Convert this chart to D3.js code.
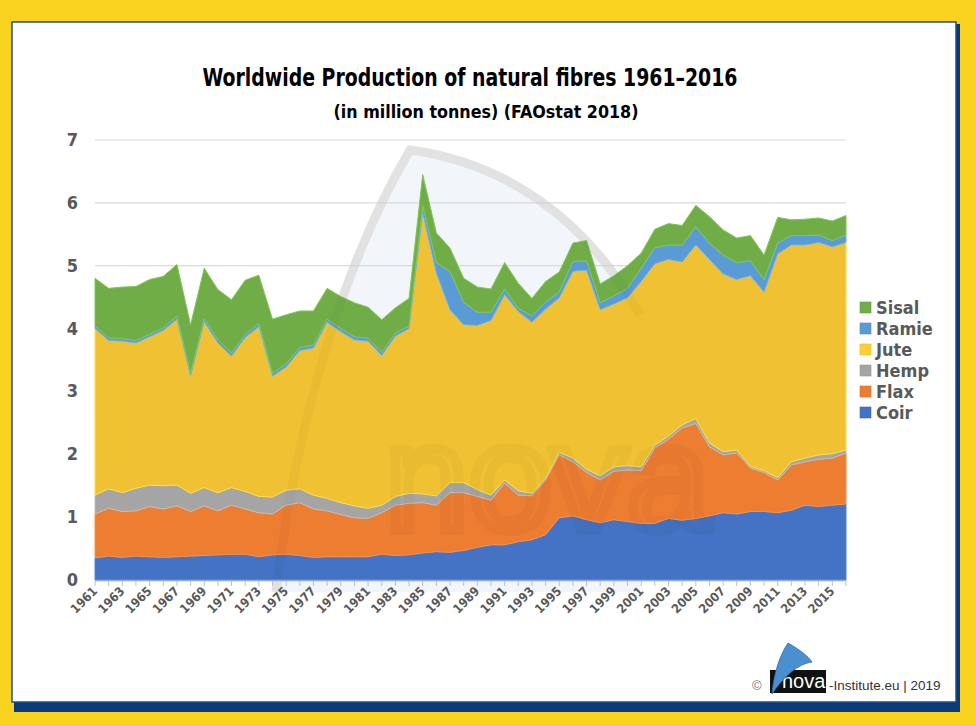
<!DOCTYPE html>
<html><head><meta charset="utf-8">
<script src="https://cdn.jsdelivr.net/npm/d3@7"></script>
<style>
html,body{margin:0;padding:0;background:#F9D320;}
svg{display:block;}
.cond{font-family:"Liberation Sans Narrow","DejaVu Sans Condensed","Roboto Condensed","Arial Narrow",sans-serif;font-weight:bold;}
</style></head>
<body><svg id="c" width="976" height="726"></svg>
<script>
const years = [1961,1962,1963,1964,1965,1966,1967,1968,1969,1970,1971,1972,1973,1974,1975,1976,1977,1978,1979,1980,
1981,1982,1983,1984,1985,1986,1987,1988,1989,1990,1991,1992,1993,1994,1995,1996,1997,1998,1999,2000,
2001,2002,2003,2004,2005,2006,2007,2008,2009,2010,2011,2012,2013,2014,2015,2016];
const coir = [0.35,0.38,0.36,0.38,0.37,0.36,0.37,0.38,0.39,0.40,0.41,0.41,0.37,0.40,0.41,0.39,0.36,0.37,0.37,0.37,
0.37,0.41,0.39,0.40,0.43,0.45,0.44,0.47,0.52,0.56,0.56,0.61,0.64,0.72,0.99,1.02,0.96,0.91,0.96,0.93,
0.90,0.90,0.98,0.95,0.98,1.02,1.07,1.05,1.09,1.09,1.07,1.11,1.19,1.17,1.19,1.21];
const flax = [0.70,0.76,0.73,0.72,0.80,0.77,0.81,0.71,0.79,0.70,0.78,0.72,0.70,0.65,0.78,0.84,0.77,0.73,0.67,0.62,
0.61,0.66,0.80,0.82,0.80,0.74,0.95,0.92,0.81,0.71,0.98,0.74,0.70,0.87,1.00,0.86,0.75,0.68,0.77,0.82,
0.84,1.20,1.26,1.47,1.51,1.10,0.92,0.97,0.69,0.62,0.52,0.72,0.69,0.75,0.75,0.81];
const hemp = [0.30,0.31,0.30,0.36,0.34,0.37,0.33,0.29,0.29,0.29,0.28,0.28,0.26,0.27,0.24,0.22,0.22,0.20,0.19,0.19,
0.16,0.12,0.14,0.16,0.14,0.15,0.16,0.16,0.11,0.08,0.05,0.07,0.04,0.03,0.04,0.06,0.05,0.07,0.07,0.07,
0.06,0.05,0.05,0.05,0.08,0.06,0.05,0.05,0.03,0.03,0.04,0.05,0.06,0.07,0.07,0.05];
const jute = [2.65,2.36,2.41,2.31,2.36,2.47,2.64,1.86,2.64,2.38,2.09,2.45,2.70,1.92,1.96,2.20,2.34,2.80,2.72,2.64,
2.66,2.38,2.55,2.62,4.47,3.54,2.75,2.51,2.61,2.78,2.95,2.85,2.72,2.69,2.46,2.97,3.17,2.64,2.59,2.67,
2.95,2.88,2.81,2.59,2.76,2.92,2.83,2.71,3.03,2.84,3.56,3.45,3.39,3.38,3.29,3.30];
const ramie = [0.04,0.04,0.04,0.04,0.04,0.04,0.05,0.05,0.05,0.05,0.05,0.05,0.05,0.05,0.05,0.05,0.05,0.05,0.05,0.05,
0.05,0.05,0.05,0.04,0.12,0.17,0.61,0.36,0.21,0.13,0.09,0.05,0.10,0.11,0.09,0.16,0.15,0.11,0.13,0.15,
0.21,0.26,0.23,0.27,0.29,0.26,0.30,0.27,0.24,0.20,0.17,0.15,0.15,0.12,0.10,0.12];
const sisal = [0.76,0.79,0.82,0.86,0.87,0.82,0.82,0.77,0.80,0.80,0.85,0.86,0.77,0.86,0.78,0.58,0.54,0.49,0.51,0.54,
0.49,0.52,0.40,0.44,0.49,0.47,0.37,0.38,0.40,0.37,0.42,0.40,0.28,0.33,0.32,0.29,0.32,0.30,0.32,0.36,
0.24,0.29,0.34,0.31,0.34,0.42,0.40,0.39,0.40,0.39,0.41,0.25,0.26,0.27,0.31,0.31];
const seriesNames = ["Coir","Flax","Hemp","Jute","Ramie","Sisal"];
const seriesColors = ["#4472C4","#ED7D31","#A5A5A5","#F0C132","#5B9BD5","#70AD47"];
const legendColors = ["#4472C4","#ED7D31","#A5A5A5","#FFCF33","#5B9BD5","#70AD47"];
const yTicks = [0,1,2,3,4,5,6,7];
const xLabelYears = years.filter((y,i)=>i%2===0);

const svg = d3.select("#c");
// frame
svg.append("rect").attr("x",0).attr("y",0).attr("width",976).attr("height",726).attr("fill","#F9D320");
svg.append("rect").attr("x",14).attr("y",24).attr("width",946).attr("height",688).attr("fill","#0B3A78");
svg.append("rect").attr("x",12).attr("y",22).attr("width",944).attr("height",680).attr("fill","#ffffff")
  .attr("stroke","#1F4E8C").attr("stroke-width",1.5);

const x = d3.scalePoint().domain(years).range([95,846]);
const y = d3.scaleLinear().domain([0,7]).range([580,140]);

// watermark background
const wmArc = "M276,592 C296,420 345,260 410,150 C500,162 585,215 640,315";
svg.append("path").attr("d",wmArc+" L640,592 Z").attr("fill","#F2F5FA");
svg.append("path").attr("d",wmArc).attr("fill","none").attr("stroke","#E8E8E8").attr("stroke-width",9);

// gridlines
svg.append("g").selectAll("line").data(yTicks.slice(1)).join("line")
  .attr("x1",95).attr("x2",846).attr("y1",d=>y(d)).attr("y2",d=>y(d))
  .attr("stroke","#D9D9D9").attr("stroke-width",1.2);

// stack
const data = years.map((yr,i)=>({year:yr,Coir:coir[i],Flax:flax[i],Hemp:hemp[i],Jute:jute[i],Ramie:ramie[i],Sisal:sisal[i]}));
const stack = d3.stack().keys(seriesNames);
const layers = stack(data);
const area = d3.area().x(d=>x(d.data.year)).y0(d=>y(d[0])).y1(d=>y(d[1]));
svg.append("g").selectAll("path").data(layers).join("path")
  .attr("d",area).attr("fill",(d,i)=>seriesColors[i])
  .attr("stroke",(d,i)=>d3.color(seriesColors[i]).brighter(0.4)).attr("stroke-width",1).attr("stroke-linejoin","round");

// faint watermark over the areas
const wm = svg.append("g").attr("opacity",0.025);
wm.append("path").attr("d",wmArc).attr("fill","none").attr("stroke","#000").attr("stroke-width",9);
wm.append("text").attr("x",385).attr("y",530).attr("font-family","Liberation Sans, Arial, sans-serif")
  .attr("font-size",150).attr("fill","none").attr("stroke","#000").attr("stroke-width",10).text("nova");

// x axis line and ticks
svg.append("line").attr("x1",95).attr("x2",846).attr("y1",580.5).attr("y2",580.5).attr("stroke","#8EA9DB").attr("stroke-width",1.5);
svg.append("g").selectAll("line").data(years).join("line")
  .attr("x1",d=>x(d)).attr("x2",d=>x(d)).attr("y1",581).attr("y2",586)
  .attr("stroke","#BFBFBF").attr("stroke-width",1);
svg.append("g").selectAll("text").data(xLabelYears).join("text")
  .attr("class","cond")
  .attr("transform",d=>`translate(${x(d)+3},${592}) rotate(-45)`)
  .attr("text-anchor","end").attr("font-size",12.5).attr("fill","#595959")
  .text(d=>d);

// y labels
svg.append("g").selectAll("text").data(yTicks).join("text")
  .attr("class","cond")
  .attr("x",78).attr("y",d=>y(d)+6).attr("text-anchor","end")
  .attr("font-size",18).attr("fill","#595959").text(d=>d);

// title
svg.append("text").attr("class","cond").attr("x",470).attr("y",86).attr("text-anchor","middle")
  .attr("font-size",24).attr("fill","#000").attr("textLength",535).attr("lengthAdjust","spacingAndGlyphs")
  .text("Worldwide Production of natural fibres 1961–2016");
svg.append("text").attr("class","cond").attr("x",486).attr("y",118).attr("text-anchor","middle")
  .attr("font-size",18).attr("fill","#000").attr("textLength",305).attr("lengthAdjust","spacingAndGlyphs")
  .text("(in million tonnes) (FAOstat 2018)");

// legend
const leg = svg.append("g");
const legOrder = seriesNames.map((n,i)=>i).reverse();
legOrder.forEach((si,k)=>{
  const ly = 308 + k*21;
  leg.append("rect").attr("x",860).attr("y",ly-6).attr("width",11).attr("height",11)
    .attr("fill",legendColors[si]).attr("stroke",d3.color(legendColors[si]).darker(0.3)).attr("stroke-width",0.6);
  leg.append("text").attr("class","cond").attr("x",876).attr("y",ly+6)
    .attr("font-size",18).attr("fill","#595959").text(seriesNames[si]);
});

// footer logo
const f = svg.append("g");
f.append("text").attr("x",752).attr("y",690).attr("font-family","Liberation Sans, Arial, sans-serif")
  .attr("font-size",13).attr("fill","#777").text("©");
f.append("rect").attr("x",770).attr("y",670).attr("width",56).attr("height",23).attr("fill","#111");
f.append("text").attr("x",782).attr("y",688).attr("font-family","Liberation Sans, Arial, sans-serif")
  .attr("font-size",20).attr("fill","#fff").text("nova");
f.append("path").attr("d","M772,694 C774,672 780,655 788,643 C800,650 808,656 812,662 C798,664 784,676 772,694 Z")
  .attr("fill","#4A90D0").attr("stroke","#2E6DB0").attr("stroke-width",0.8);
f.append("text").attr("x",829).attr("y",690).attr("font-family","Liberation Sans, Arial, sans-serif")
  .attr("font-size",13.5).attr("fill","#333").text("-Institute.eu | 2019");
</script></body></html>
